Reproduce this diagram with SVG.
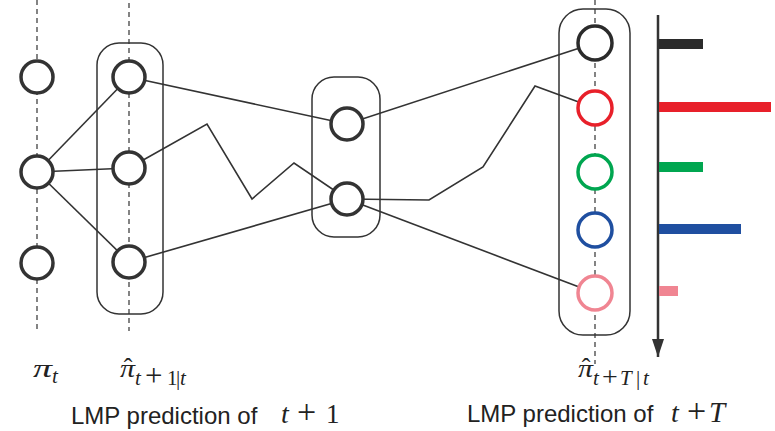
<svg xmlns="http://www.w3.org/2000/svg" width="775" height="431" viewBox="0 0 775 431">
  <style>
    .guide { stroke: #333; stroke-width: 1.2; stroke-dasharray: 5 4; fill: none; }
    .box { fill: none; stroke: #333; stroke-width: 1.5; }
    .node { fill: #fff; stroke: #333; stroke-width: 3.5; }
    .edge { fill: none; stroke: #333; stroke-width: 1.6; stroke-linejoin: miter; }
    .it { font-family: "Liberation Serif", "DejaVu Serif", serif; font-style: italic; fill: #222; }
    .rm { font-family: "Liberation Serif", "DejaVu Serif", serif; fill: #222; }
    .cap { font-family: "Liberation Sans", Arial, sans-serif; font-size: 24px; fill: #222; }
    .sub { font-size: 21px; }
    .bar { stroke-width: 10; }
  </style>
  <defs>
    <marker id="arrowHead" viewBox="0 0 18 12" refX="18" refY="6" markerWidth="18" markerHeight="12" markerUnits="userSpaceOnUse" orient="auto">
      <path d="M0,0 L18,6 L0,12 Z" fill="#333"/>
    </marker>
  </defs>

  <!-- time guides -->
  <g id="guides">
    <line class="guide" x1="37" y1="0" x2="37" y2="331"/>
    <line class="guide" x1="129" y1="3" x2="129" y2="331"/>
    <line class="guide" x1="595" y1="0" x2="595" y2="364"/>
  </g>

  <!-- grouping boxes -->
  <g id="box-t1"><rect class="box" x="97" y="43" width="66" height="271" rx="22"/></g>
  <g id="box-mid"><rect class="box" x="312" y="77" width="68" height="160" rx="22"/></g>
  <g id="box-tT"><rect class="box" x="559" y="9" width="71" height="326" rx="24"/></g>

  <!-- connectors -->
  <g id="connectors">
    <line class="edge" x1="37" y1="172" x2="129" y2="77"/>
    <line class="edge" x1="37" y1="172" x2="129" y2="168"/>
    <line class="edge" x1="37" y1="172" x2="129" y2="262"/>
    <line class="edge" x1="129" y1="77" x2="347" y2="124"/>
    <polyline class="edge" points="129,168 207,124 252,199 294,163 347,199"/>
    <line class="edge" x1="129" y1="262" x2="347" y2="199"/>
    <line class="edge" x1="347" y1="124" x2="595" y2="43"/>
    <polyline class="edge" points="347,199 429,200 483,167 535,86 595,108"/>
    <line class="edge" x1="347" y1="199" x2="595" y2="293"/>
  </g>

  <!-- state nodes at t -->
  <g id="n-t-1"><circle class="node" cx="37" cy="77" r="16"/></g>
  <g id="n-t-2"><circle class="node" cx="37" cy="172" r="16"/></g>
  <g id="n-t-3"><circle class="node" cx="37" cy="263" r="16"/></g>

  <!-- predicted nodes at t+1 -->
  <g id="n-t1-1"><circle class="node" cx="129" cy="77" r="16"/></g>
  <g id="n-t1-2"><circle class="node" cx="129" cy="168" r="16"/></g>
  <g id="n-t1-3"><circle class="node" cx="129" cy="262" r="16"/></g>

  <!-- intermediate nodes -->
  <g id="n-mid-1"><circle class="node" cx="347" cy="124" r="16"/></g>
  <g id="n-mid-2"><circle class="node" cx="347" cy="199" r="16"/></g>

  <!-- predicted nodes at t+T -->
  <g id="n-tT-1"><circle class="node" cx="595" cy="43" r="17" style="stroke:#2b2b2b"/></g>
  <g id="n-tT-2"><circle class="node" cx="595" cy="108" r="17" style="stroke:#e8202a"/></g>
  <g id="n-tT-3"><circle class="node" cx="595" cy="172" r="17" style="stroke:#00a650"/></g>
  <g id="n-tT-4"><circle class="node" cx="595" cy="230" r="17" style="stroke:#1f4fa0"/></g>
  <g id="n-tT-5"><circle class="node" cx="595" cy="293" r="17" style="stroke:#f08592"/></g>

  <!-- probability axis and bars -->
  <g id="histogram">
    <line x1="658" y1="15" x2="658" y2="357" stroke="#333" stroke-width="2.5" marker-end="url(#arrowHead)"/>
    <line class="bar" x1="659" y1="44" x2="703" y2="44" stroke="#2b2b2b"/>
    <line class="bar" x1="659" y1="107" x2="771" y2="107" stroke="#e8202a"/>
    <line class="bar" x1="659" y1="167" x2="703" y2="167" stroke="#00a650"/>
    <line class="bar" x1="659" y1="229" x2="741" y2="229" stroke="#1f4fa0"/>
    <line class="bar" x1="659" y1="291" x2="678" y2="291" stroke="#f08592"/>
  </g>

  <!-- labels -->
  <g id="labels">
    <!-- pi_t -->
    <text class="it" x="33" y="377" font-size="26" textLength="19" lengthAdjust="spacingAndGlyphs">π</text>
    <text class="it sub" x="52" y="383">t</text>

    <!-- hat pi_{t+1|t} -->
    <text class="rm" x="128" y="376" font-size="26" text-anchor="middle">ˆ</text>
    <text class="it" x="120" y="377" font-size="26" textLength="15" lengthAdjust="spacingAndGlyphs">π</text>
    <text class="it sub" x="135" y="385">t</text>
    <text class="rm" x="145" y="386" font-size="31">+</text>
    <text class="rm sub" x="167" y="385">1</text>
    <text class="rm sub" x="176" y="385">|</text>
    <text class="it sub" x="180" y="385">t</text>

    <!-- hat pi_{t+T|t} -->
    <text class="rm" x="586" y="376" font-size="26" text-anchor="middle">ˆ</text>
    <text class="it" x="578" y="377" font-size="26" textLength="15" lengthAdjust="spacingAndGlyphs">π</text>
    <text class="it sub" x="593" y="385">t</text>
    <text class="rm" x="602" y="386" font-size="28">+</text>
    <text class="it sub" x="620" y="385">T</text>
    <text class="rm sub" x="636" y="385">|</text>
    <text class="it sub" x="643" y="385">t</text>

    <!-- captions -->
    <text class="cap" x="71" y="424">LMP prediction of</text>
    <text class="it" x="281" y="423" font-size="28">t</text>
    <text class="rm" x="297" y="423" font-size="34">+</text>
    <text class="rm" x="326" y="423" font-size="27">1</text>

    <text class="cap" x="467" y="422">LMP prediction of</text>
    <text class="it" x="671" y="422" font-size="28">t</text>
    <text class="rm" x="687" y="422" font-size="34">+</text>
    <text class="it" x="709" y="422" font-size="29">T</text>
  </g>
</svg>
